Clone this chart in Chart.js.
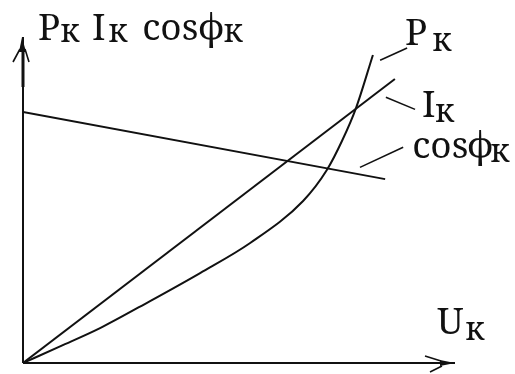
<!DOCTYPE html>
<html>
<head>
<meta charset="utf-8">
<script src="https://cdn.jsdelivr.net/npm/chart.js@4/dist/chart.umd.min.js"></script>
<style>
  html, body { margin: 0; padding: 0; background: #fff; }
  canvas { display: block; }
</style>
</head>
<body>
<canvas id="c" width="515" height="374"></canvas>
<script>
// Short-circuit characteristics vs. short-circuit voltage U_k (arbitrary units)
const cosPhiU = [0, 10.06];
const cosPhiK = [7.70, 5.64];

const currentU = [0, 10.33];
const currentK = [0, 8.71];

const powerU = [0, 1.03, 2.14, 3.53, 4.92, 6.31, 7.78, 8.44, 8.86, 9.25, 9.72];
const powerK = [0, 0.51, 1.07, 1.90, 2.76, 3.68, 4.97, 5.92, 6.81, 7.82, 9.45];

const toPoints = (xs, ys) => xs.map((x, i) => ({ x, y: ys[i] }));

const INK = '#111';
const FONT = '37px "Noto Serif", "DejaVu Serif", serif';
const SUB_FONT = '33px "Noto Serif", "DejaVu Serif", serif';

// Axis arrows, label leaders and text labels
const sketchPlugin = {
  id: 'sketch',
  afterDatasetsDraw(chart, args, opts) {
    const { ctx, scales: { x, y } } = chart;
    const X = v => x.getPixelForValue(v);
    const Y = v => y.getPixelForValue(v);
    ctx.save();
    ctx.strokeStyle = INK;
    ctx.fillStyle = INK;
    ctx.lineCap = 'butt';

    const x0 = X(0), y0 = Y(0), xTop = X(x.max), yTop = Y(y.max);

    // vertical axis
    ctx.lineWidth = 2;
    ctx.beginPath(); ctx.moveTo(x0, y0); ctx.lineTo(x0, yTop); ctx.stroke();
    ctx.lineWidth = 3;
    ctx.beginPath(); ctx.moveTo(x0, yTop + 12); ctx.lineTo(x0, yTop + 50); ctx.stroke();
    ctx.beginPath();
    ctx.moveTo(x0 - 1, yTop); ctx.lineTo(x0 - 4, yTop + 15); ctx.lineTo(x0 + 3, yTop + 15);
    ctx.closePath(); ctx.fill();
    ctx.lineWidth = 1.6;
    ctx.beginPath();
    ctx.moveTo(x0 - 3, yTop + 12); ctx.lineTo(x0 - 10, yTop + 25);
    ctx.moveTo(x0 + 2, yTop + 12); ctx.lineTo(x0 + 6, yTop + 25);
    ctx.stroke();

    // horizontal axis
    ctx.lineWidth = 2;
    ctx.beginPath(); ctx.moveTo(x0, y0); ctx.lineTo(xTop, y0); ctx.stroke();
    ctx.beginPath();
    ctx.moveTo(xTop, y0); ctx.lineTo(xTop - 15, y0 - 3); ctx.lineTo(xTop - 15, y0 + 3);
    ctx.closePath(); ctx.fill();
    ctx.lineWidth = 1.6;
    ctx.beginPath();
    ctx.moveTo(xTop - 14, y0 - 2); ctx.lineTo(xTop - 30, y0 - 7);
    ctx.moveTo(xTop - 13, y0 + 3); ctx.lineTo(xTop - 25, y0 + 9);
    ctx.stroke();

    // leader lines from labels to curves
    ctx.lineWidth = 1.6;
    opts.leaders.forEach(l => {
      ctx.beginPath();
      ctx.moveTo(X(l[0]), Y(l[1]));
      ctx.lineTo(X(l[2]), Y(l[3]));
      ctx.stroke();
    });

    // labels; subscripts use the smaller face
    ctx.textBaseline = 'alphabetic';
    ctx.textAlign = 'left';
    opts.labels.forEach(t => {
      ctx.font = t[0] === 'к' ? SUB_FONT : FONT;
      ctx.fillText(t[0], X(t[1]), Y(t[2]));
    });
    ctx.restore();
  }
};

function draw() {
  new Chart(document.getElementById('c'), {
    type: 'scatter',
    data: {
      datasets: [
        { label: 'cosϕк', data: toPoints(cosPhiU, cosPhiK), showLine: true },
        { label: 'Iк', data: toPoints(currentU, currentK), showLine: true },
        { label: 'Pк', data: toPoints(powerU, powerK), showLine: true, cubicInterpolationMode: 'monotone' }
      ]
    },
    options: {
      responsive: false,
      devicePixelRatio: 1,
      animation: false,
      layout: { padding: { left: 23, right: 60, top: 37, bottom: 11 } },
      elements: {
        point: { radius: 0, hoverRadius: 0 },
        line: { borderColor: INK, borderWidth: 2, fill: false }
      },
      scales: {
        x: { type: 'linear', min: 0, max: 12, display: false },
        y: { type: 'linear', min: 0, max: 10, display: false }
      },
      plugins: {
        legend: { display: false },
        tooltip: { enabled: false },
        sketch: {
          leaders: [
            [9.92, 9.29, 10.67, 9.66],
            [10.08, 8.15, 10.89, 7.78],
            [9.36, 6.00, 10.56, 6.62]
          ],
          labels: [
            ['P', 0.42, 9.91], ['к', 1.03, 9.85],
            ['I', 1.92, 9.91], ['к', 2.36, 9.85],
            ['cos', 3.31, 9.91], ['ϕ', 4.86, 9.91], ['к', 5.56, 9.85],
            ['P', 10.61, 9.75], ['к', 11.36, 9.57],
            ['I', 11.08, 7.55], ['к', 11.44, 7.39],
            ['cos', 10.81, 6.29], ['ϕ', 12.33, 6.29], ['к', 12.97, 6.17],
            ['U', 11.5, 0.89], ['к', 12.28, 0.71]
          ]
        }
      }
    },
    plugins: [sketchPlugin]
  });
}

if (document.fonts && document.fonts.load) {
  document.fonts.load(FONT, 'Pкϕcos').then(draw, draw);
} else {
  draw();
}
</script>
</body>
</html>
